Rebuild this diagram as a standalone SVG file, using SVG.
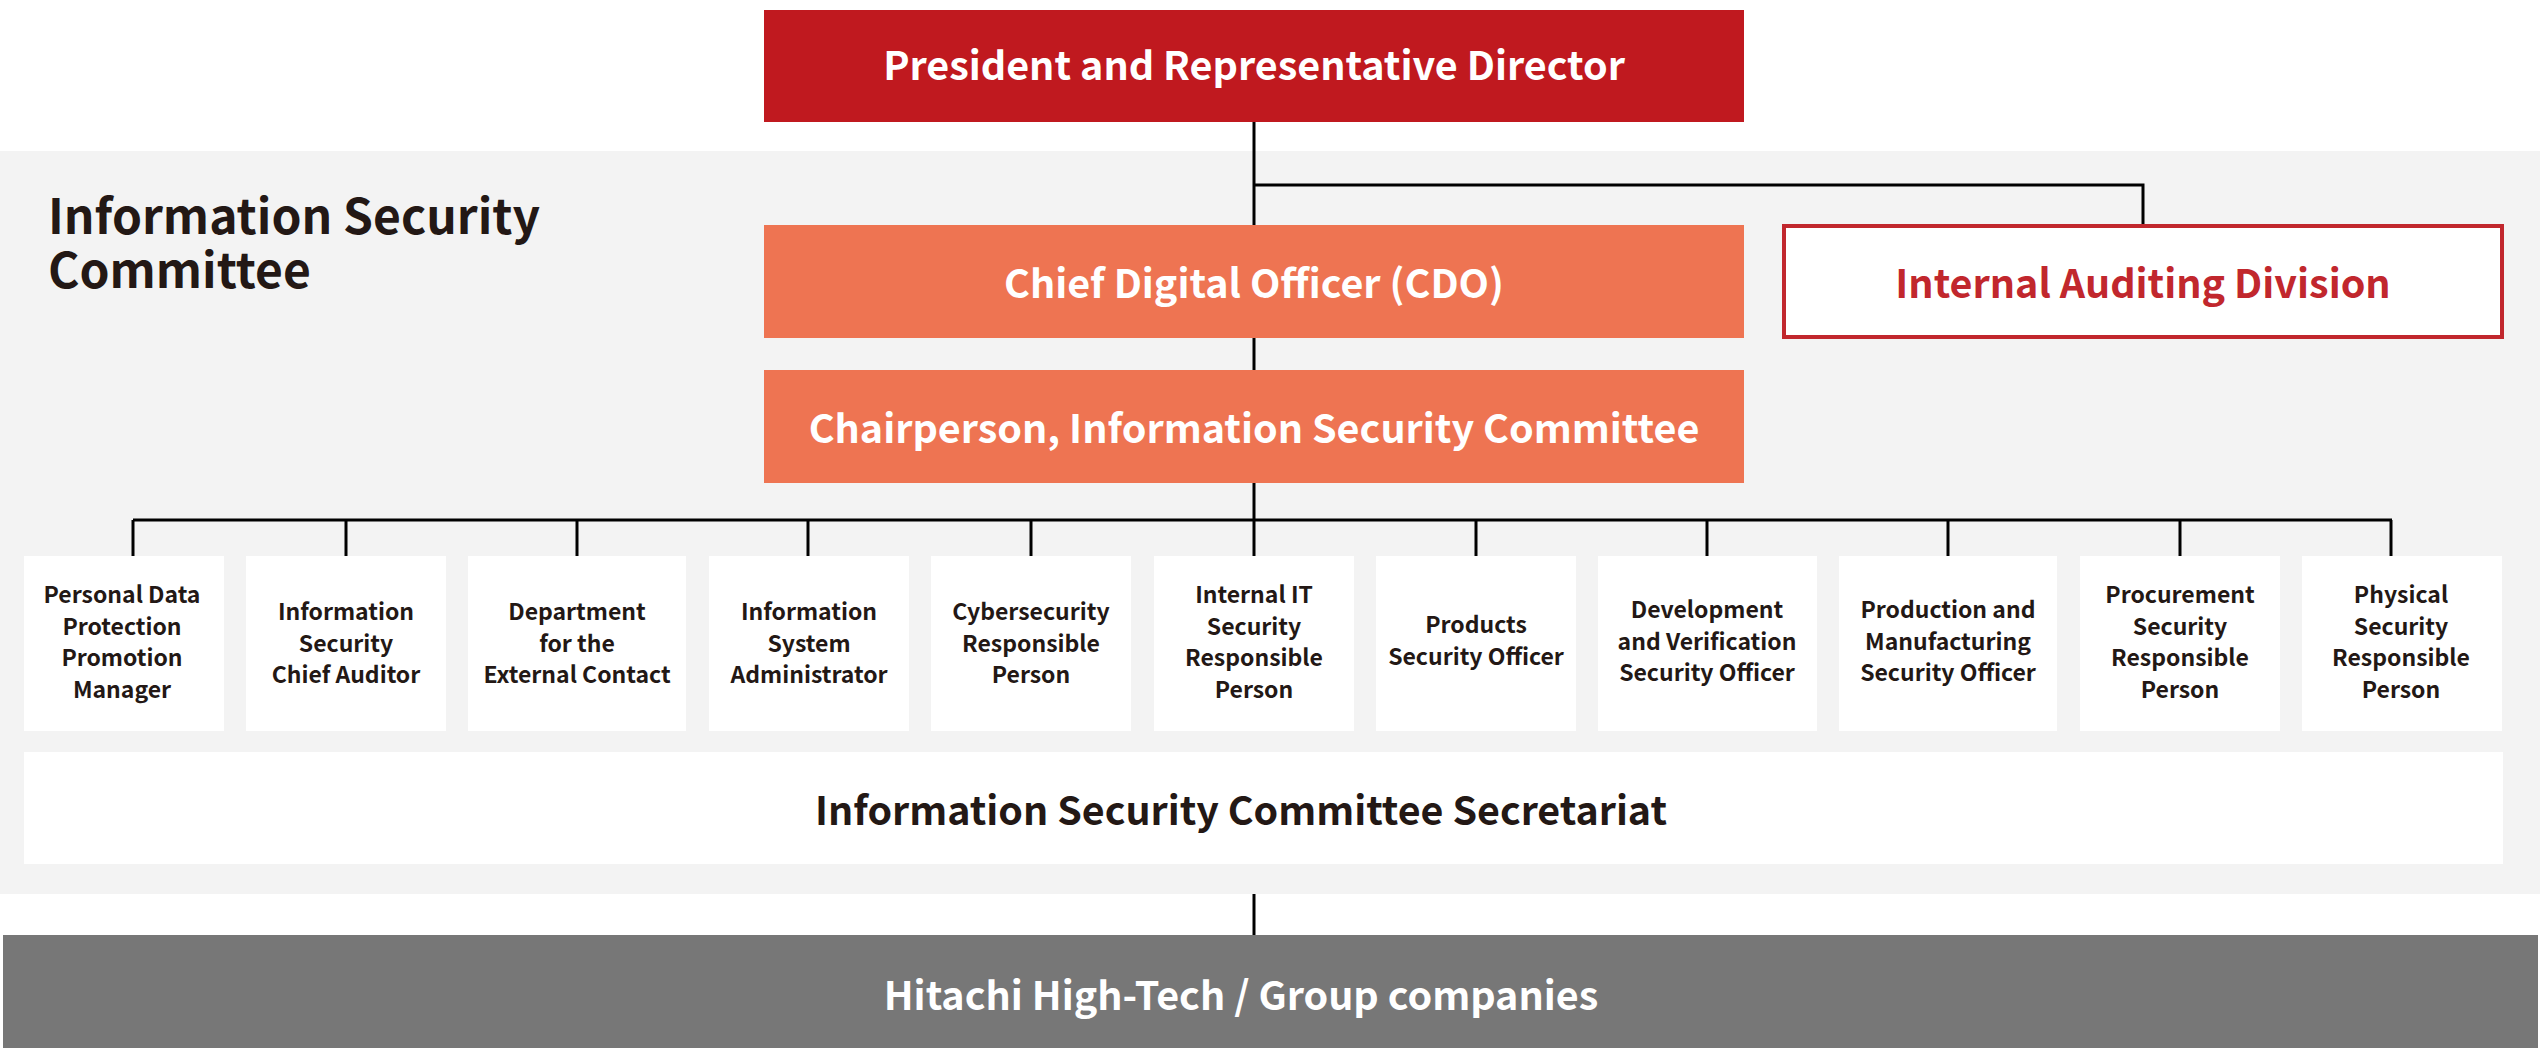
<svg xmlns="http://www.w3.org/2000/svg" width="2540" height="1058" viewBox="0 0 2540 1058">
<defs>
<style>
text{font-family:"Noto Sans CJK JP","Source Han Sans","Liberation Sans",sans-serif;font-weight:700;text-anchor:middle}
.big{font-size:39.5px}
.w{fill:#ffffff}
.dk{fill:#231815}
.sm{font-size:23px;fill:#231815}
.box{fill:#ffffff}
.ln{stroke:#000000;stroke-width:3;fill:none}
</style>
</defs>
<rect x="0" y="0" width="2540" height="1058" fill="#ffffff"/>
<g id="committee">
<rect x="0" y="151" width="2540" height="743" fill="#f3f3f3"/>
<text class="dk" style="font-size:48px;text-anchor:start" x="48" y="234"><tspan x="48">Information Security</tspan><tspan x="48" dy="54">Committee</tspan></text>
</g>

<g id="connectors">
<polyline class="ln" points="1254,122 1254,225"/>
<polyline class="ln" points="1254,185 2143,185 2143,224"/>
<polyline class="ln" points="1254,338 1254,370"/>
<polyline class="ln" points="1254,483 1254,556"/>
<polyline class="ln" points="133,520 2392,520"/>
<polyline class="ln" points="133,520 133,556"/>
<polyline class="ln" points="346,520 346,556"/>
<polyline class="ln" points="577,520 577,556"/>
<polyline class="ln" points="808,520 808,556"/>
<polyline class="ln" points="1031,520 1031,556"/>
<polyline class="ln" points="1476,520 1476,556"/>
<polyline class="ln" points="1707,520 1707,556"/>
<polyline class="ln" points="1948,520 1948,556"/>
<polyline class="ln" points="2180,520 2180,556"/>
<polyline class="ln" points="2391,520 2391,556"/>
<polyline class="ln" points="1254,894 1254,935"/>
</g>

<g id="president">
<rect x="764" y="10" width="980" height="112" fill="#c0191f"/>
<text x="1254" y="80" class="big w">President and Representative Director</text>
</g>
<g id="cdo">
<rect x="764" y="225" width="980" height="113" fill="#ee7452"/>
<text x="1254" y="298" class="big w">Chief Digital Officer (CDO)</text>
</g>
<g id="auditing">
<rect x="1784" y="226" width="718" height="111" fill="#ffffff" stroke="#c1272d" stroke-width="4"/>
<text x="2143" y="298" class="big" fill="#c1272d">Internal Auditing Division</text>
</g>
<g id="chair">
<rect x="764" y="370" width="980" height="113" fill="#ee7452"/>
<text x="1254" y="443" class="big w">Chairperson, Information Security Committee</text>
</g>

<g id="n1"><rect class="box" x="24" y="556" width="200" height="175"/>
<text class="sm" x="122" y="603"><tspan x="122">Personal Data</tspan><tspan x="122" dy="31.7">Protection</tspan><tspan x="122" dy="31.7">Promotion</tspan><tspan x="122" dy="31.7">Manager</tspan></text></g>
<g id="n2"><rect class="box" x="246" y="556" width="200" height="175"/>
<text class="sm" x="346" y="620"><tspan x="346">Information</tspan><tspan x="346" dy="31.7">Security</tspan><tspan x="346" dy="31.7">Chief Auditor</tspan></text></g>
<g id="n3"><rect class="box" x="468" y="556" width="218" height="175"/>
<text class="sm" x="577" y="620"><tspan x="577">Department</tspan><tspan x="577" dy="31.7">for the</tspan><tspan x="577" dy="31.7">External Contact</tspan></text></g>
<g id="n4"><rect class="box" x="709" y="556" width="200" height="175"/>
<text class="sm" x="809" y="620"><tspan x="809">Information</tspan><tspan x="809" dy="31.7">System</tspan><tspan x="809" dy="31.7">Administrator</tspan></text></g>
<g id="n5"><rect class="box" x="931" y="556" width="200" height="175"/>
<text class="sm" x="1031" y="620"><tspan x="1031">Cybersecurity</tspan><tspan x="1031" dy="31.7">Responsible</tspan><tspan x="1031" dy="31.7">Person</tspan></text></g>
<g id="n6"><rect class="box" x="1154" y="556" width="200" height="175"/>
<text class="sm" x="1254" y="603"><tspan x="1254">Internal IT</tspan><tspan x="1254" dy="31.7">Security</tspan><tspan x="1254" dy="31.7">Responsible</tspan><tspan x="1254" dy="31.7">Person</tspan></text></g>
<g id="n7"><rect class="box" x="1376" y="556" width="200" height="175"/>
<text class="sm" x="1476" y="633"><tspan x="1476">Products</tspan><tspan x="1476" dy="31.7">Security Officer</tspan></text></g>
<g id="n8"><rect class="box" x="1598" y="556" width="219" height="175"/>
<text class="sm" x="1707" y="618"><tspan x="1707">Development</tspan><tspan x="1707" dy="31.7">and Verification</tspan><tspan x="1707" dy="31.7">Security Officer</tspan></text></g>
<g id="n9"><rect class="box" x="1839" y="556" width="218" height="175"/>
<text class="sm" x="1948" y="618"><tspan x="1948">Production and</tspan><tspan x="1948" dy="31.7">Manufacturing</tspan><tspan x="1948" dy="31.7">Security Officer</tspan></text></g>
<g id="n10"><rect class="box" x="2080" y="556" width="200" height="175"/>
<text class="sm" x="2180" y="603"><tspan x="2180">Procurement</tspan><tspan x="2180" dy="31.7">Security</tspan><tspan x="2180" dy="31.7">Responsible</tspan><tspan x="2180" dy="31.7">Person</tspan></text></g>
<g id="n11"><rect class="box" x="2302" y="556" width="200" height="175"/>
<text class="sm" x="2401" y="603"><tspan x="2401">Physical</tspan><tspan x="2401" dy="31.7">Security</tspan><tspan x="2401" dy="31.7">Responsible</tspan><tspan x="2401" dy="31.7">Person</tspan></text></g>

<g id="secretariat">
<rect class="box" x="24" y="752" width="2479" height="112"/>
<text x="1241" y="825" class="dk" style="font-size:39.4px">Information Security Committee Secretariat</text>
</g>
<g id="hitachi">
<rect x="3" y="935" width="2535" height="113" fill="#777777"/>
<text x="1241" y="1010" class="w" style="font-size:39.5px">Hitachi High-Tech / Group companies</text>
</g>
</svg>
